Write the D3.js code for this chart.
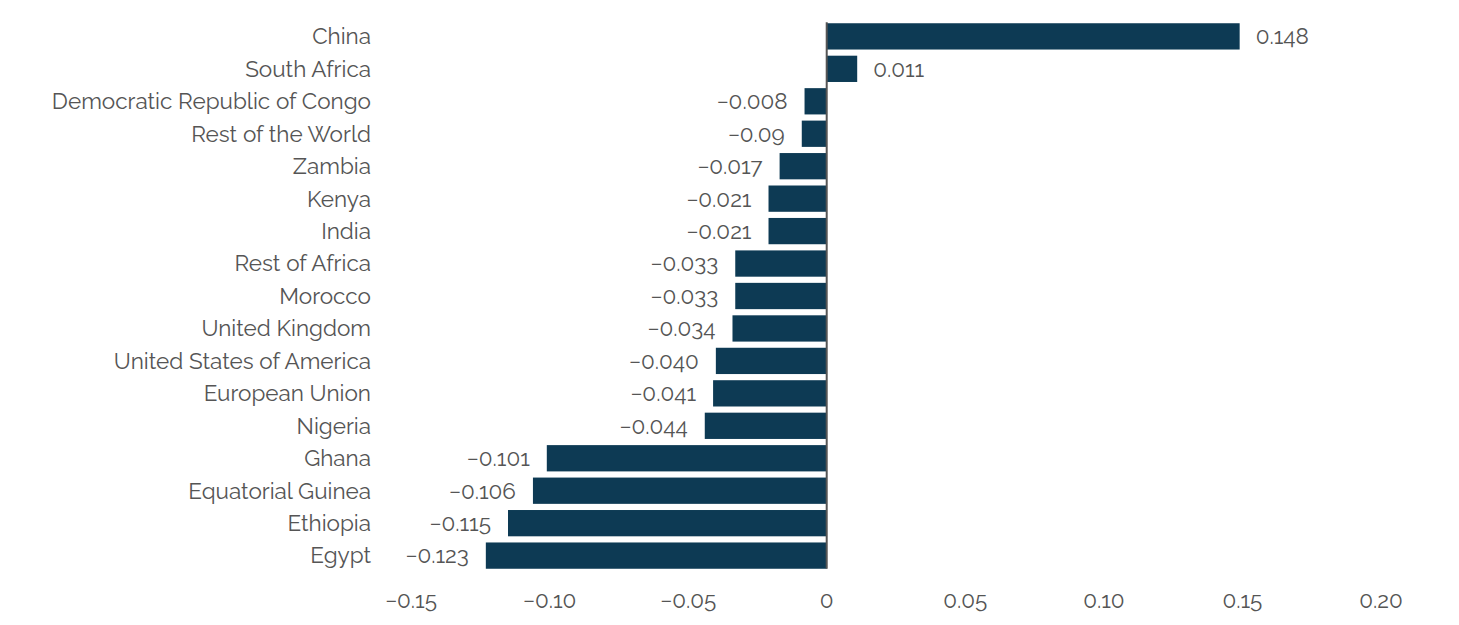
<!DOCTYPE html>
<html>
<head>
<meta charset="utf-8">
<script src="https://cdn.jsdelivr.net/npm/d3@7"></script>
<style>
  body { margin: 0; background: #fff; }
  text { font-family: Raleway, Lato, "Open Sans", sans-serif; fill: #555; }
</style>
</head>
<body>
<div id="chart"></div>
<script>
// categories, top to bottom
var countries = ["China", "South Africa", "Democratic Republic of Congo", "Rest of the World",
  "Zambia", "Kenya", "India", "Rest of Africa", "Morocco", "United Kingdom",
  "United States of America", "European Union", "Nigeria", "Ghana",
  "Equatorial Guinea", "Ethiopia", "Egypt"];

var values = [0.149, 0.011, -0.008, -0.009, -0.017, -0.021, -0.021, -0.033, -0.033, -0.034,
  -0.040, -0.041, -0.044, -0.101, -0.106, -0.115, -0.123];

// labels as printed on the chart
var valueLabels = ["0.148", "0.011", "−0.008", "−0.09", "−0.017", "−0.021", "−0.021", "−0.033",
  "−0.033", "−0.034", "−0.040", "−0.041", "−0.044", "−0.101", "−0.106", "−0.115", "−0.123"];

var ticks = [-0.15, -0.10, -0.05, 0, 0.05, 0.10, 0.15, 0.20];
var tickLabels = ["−0.15", "−0.10", "−0.05", "0", "0.05", "0.10", "0.15", "0.20"];

var width = 1459, height = 625;

var svg = d3.select("#chart")
  .append("svg")
    .attr("width", width)
    .attr("height", height);

var x = d3.scaleLinear()
  .domain([-0.15, 0.20])
  .range([411, 1381]);

var y = d3.scaleBand()
  .domain(countries)
  .range([20, 572])
  .paddingInner(0.19)
  .paddingOuter(0.1);

svg.selectAll("rect.bar")
  .data(values)
  .enter().append("rect")
    .attr("class", "bar")
    .attr("x", function(d) { return x(Math.min(0, d)); })
    .attr("y", function(d, i) { return y(countries[i]); })
    .attr("width", function(d) { return Math.abs(x(d) - x(0)); })
    .attr("height", y.bandwidth())
    .attr("fill", "#0d3a54");

// zero line
svg.append("line")
  .attr("x1", x(0))
  .attr("x2", x(0))
  .attr("y1", y(countries[0]) - 1)
  .attr("y2", y(countries[countries.length - 1]) + y.bandwidth())
  .attr("stroke", "#555")
  .attr("stroke-width", 2);

// country labels
svg.selectAll("text.cat")
  .data(countries)
  .enter().append("text")
    .attr("class", "cat")
    .attr("x", 371)
    .attr("y", function(d) { return y(d) + y.bandwidth() / 2; })
    .attr("dy", "0.35em")
    .attr("text-anchor", "end")
    .style("font-size", "22.5px")
    .text(function(d) { return d; });

// value labels
svg.selectAll("text.val")
  .data(values)
  .enter().append("text")
    .attr("class", "val")
    .attr("x", function(d) { return d >= 0 ? x(d) + 16 : x(d) - 17; })
    .attr("y", function(d, i) { return y(countries[i]) + y.bandwidth() / 2; })
    .attr("dy", "0.35em")
    .attr("text-anchor", function(d) { return d >= 0 ? "start" : "end"; })
    .style("font-size", "22.5px")
    .text(function(d, i) { return valueLabels[i]; });

// x axis tick labels
svg.selectAll("text.tick")
  .data(ticks)
  .enter().append("text")
    .attr("class", "tick")
    .attr("x", function(d) { return x(d); })
    .attr("y", 600)
    .attr("dy", "0.35em")
    .attr("text-anchor", "middle")
    .style("font-size", "22.5px")
    .text(function(d, i) { return tickLabels[i]; });
</script>
</body>
</html>
